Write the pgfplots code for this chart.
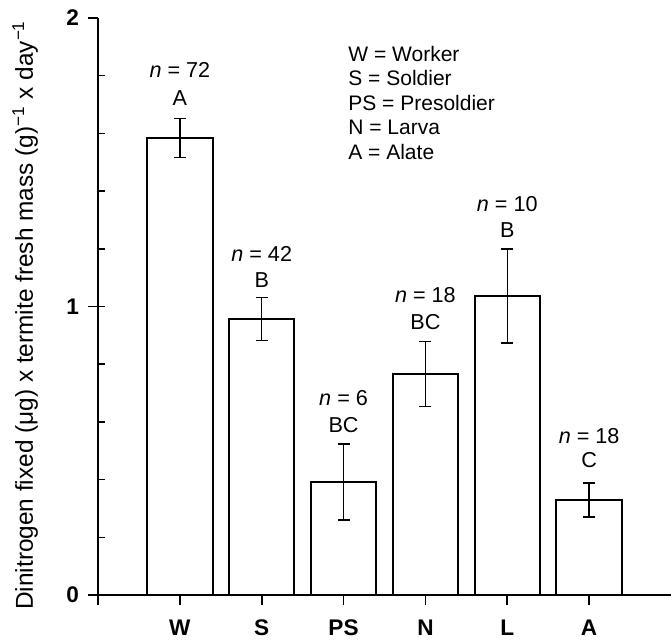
\documentclass[border=0pt]{standalone}
\usepackage{fontspec}
\setmainfont{Liberation Sans}
\usepackage{pgfplots}
\pgfplotsset{compat=1.18}
\begin{document}
\begin{tikzpicture}
\begin{axis}[
  scale only axis, width=286.5pt, height=288.5pt,
  xmin=-1, xmax=6, ymin=0, ymax=2,
  clip=false,
  axis x line=bottom, axis y line=left,
  axis line style={-, line width=1pt, black},
  ybar, bar width=0.8,
  xtick={0,1,2,3,4,5},
  xticklabels={W,S,PS,N,L,A},
  ytick={0,1,2},
  tick align=outside,
  major tick length=5pt,
  tick style={line width=0.8pt, black},
  extra y ticks={0.2,0.4,0.6,0.8,1,1.2,1.4,1.6,1.8},
  extra y tick labels={},
  extra y tick style={tick align=inside, major tick length=3.5pt, tick style={line width=0.8pt, black}},
  extra x ticks={-1},
  extra x tick labels={},
  /pgf/number format/assume math mode=true,
  xticklabel style={font=\bfseries\fontsize{11.3}{12}\selectfont, yshift=-3.8pt},
  yticklabel style={font=\bfseries\fontsize{11.3}{12}\selectfont, xshift=-1pt},
  ylabel={Dinitrogen fixed (μg) x termite fresh mass (g)\textsuperscript{−1} x day\textsuperscript{−1}},
  ylabel style={font=\fontsize{12.2}{14}\selectfont, at={(axis description cs:-0.127,0.485)}, anchor=center},
]
\addplot[draw=black, fill=white, line width=1pt,
  error bars/.cd, y dir=both, y explicit,
  error bar style={line width=0.7pt, black},
  error mark options={rotate=90, mark size=3pt, line width=0.7pt, black}]
  coordinates {
  (0,1.584) +- (0,0.068)
  (1,0.957) +- (0,0.075)
  (2,0.392) +- (0,0.132)
  (3,0.766) +- (0,0.113)
  (4,1.036) +- (0,0.163)
  (5,0.329) +- (0,0.059)
  };
\begin{scope}[every node/.style={font=\fontsize{10.8}{12}\selectfont, anchor=center, inner sep=0pt}]
\node at (axis cs:0,1.820) {\textit{n} = 72};
\node at (axis cs:0,1.723) {A};
\node at (axis cs:1,1.182) {\textit{n} = 42};
\node at (axis cs:1,1.092) {B};
\node at (axis cs:2,0.683) {\textit{n} = 6};
\node at (axis cs:2,0.589) {BC};
\node at (axis cs:3,1.040) {\textit{n} = 18};
\node at (axis cs:3,0.946) {BC};
\node at (axis cs:4,1.355) {\textit{n} = 10};
\node at (axis cs:4,1.265) {B};
\node at (axis cs:5,0.551) {\textit{n} = 18};
\node at (axis cs:5,0.468) {C};
\end{scope}
\node[anchor=north west, align=left, inner sep=0pt, font=\fontsize{10.5}{12.25}\selectfont] at (axis cs:2.054,1.905)
  {W = Worker\\S = Soldier\\PS = Presoldier\\N = Larva\\A = Alate};
\end{axis}
\pgfresetboundingbox
\path ([shift={(-49pt,-23pt)}]current axis.south west) rectangle ([shift={(0pt,9pt)}]current axis.north east);
\end{tikzpicture}
\end{document}
